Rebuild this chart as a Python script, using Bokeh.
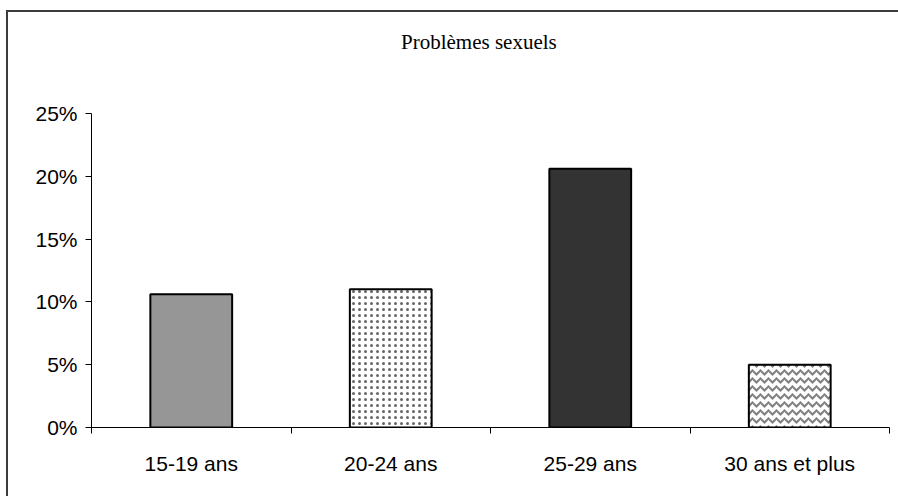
from bokeh.plotting import figure
from bokeh.layouts import column
from bokeh.models import ColumnDataSource, Range1d, FixedTicker, NumeralTickFormatter, Div
from bokeh.embed import file_html
from bokeh.resources import INLINE

categories = ["15-19 ans", "20-24 ans", "25-29 ans", "30 ans et plus"]
values = [0.106, 0.110, 0.206, 0.050]
y_ticks = [0, 0.05, 0.10, 0.15, 0.20, 0.25]
title_text = "Problèmes sexuels"

fills = ["#969696", "#ffffff", "#333333", "#ffffff"]
hatches = [" ", "dot", " ", "horizontal_wave"]
hatch_colors = ["#969696", "#666666", "#333333", "#808080"]
hatch_scales = [5, 6, 5, 8]
hatch_weights = [1, 1.4, 1, 2]

xs = [i + 0.5 for i in range(len(categories))]
src = ColumnDataSource(dict(x=xs, top=values, fill=fills, hatch=hatches, hcol=hatch_colors,
                            hscale=hatch_scales, hweight=hatch_weights))

title_div = Div(text=title_text, width=900, height=50,
                styles={"font-family": "Liberation Serif", "font-size": "21px", "color": "#000000",
                        "padding-top": "10px", "padding-left": "388px", "box-sizing": "border-box"})

p = figure(width=900, height=424, output_backend="svg", toolbar_location=None,
           x_range=Range1d(0, len(categories)), y_range=Range1d(0, 0.25),
           min_border_left=83, min_border_right=19, min_border_top=41, min_border_bottom=69)
p.outline_line_color = None
p.xgrid.visible = False
p.ygrid.visible = False

p.vbar(x="x", top="top", bottom=0, width=0.41, source=src, fill_color="fill",
       hatch_pattern="hatch", hatch_color="hcol", hatch_scale="hscale", hatch_weight="hweight",
       line_color="#000000", line_width=2)

xa = p.xaxis[0]
xa.ticker = FixedTicker(ticks=xs, minor_ticks=list(range(len(categories) + 1)))
xa.major_label_overrides = {x: c for x, c in zip(xs, categories)}
xa.major_tick_out = 0
xa.major_tick_in = 0
xa.minor_tick_out = 6
xa.minor_tick_in = 0
xa.major_label_standoff = 18
xa.major_label_text_font = "Liberation Sans"
xa.major_label_text_font_size = "21px"
xa.major_label_text_color = "#000000"
xa.axis_line_color = "#000000"

ya = p.yaxis[0]
ya.ticker = FixedTicker(ticks=y_ticks, minor_ticks=[])
ya.formatter = NumeralTickFormatter(format="0%")
ya.major_tick_out = 6
ya.major_tick_in = 0
ya.minor_tick_out = 0
ya.major_label_standoff = 8
ya.major_label_text_font = "Liberation Sans"
ya.major_label_text_font_size = "21px"
ya.major_label_text_color = "#000000"
ya.axis_line_color = "#000000"

layout = column(title_div, p, spacing=0,
                styles={"border-left": "2px solid #3c3c3c", "border-top": "2px solid #3c3c3c",
                        "margin-left": "6px", "margin-top": "10px"})

open("out.html", "w").write(file_html(layout, INLINE))
